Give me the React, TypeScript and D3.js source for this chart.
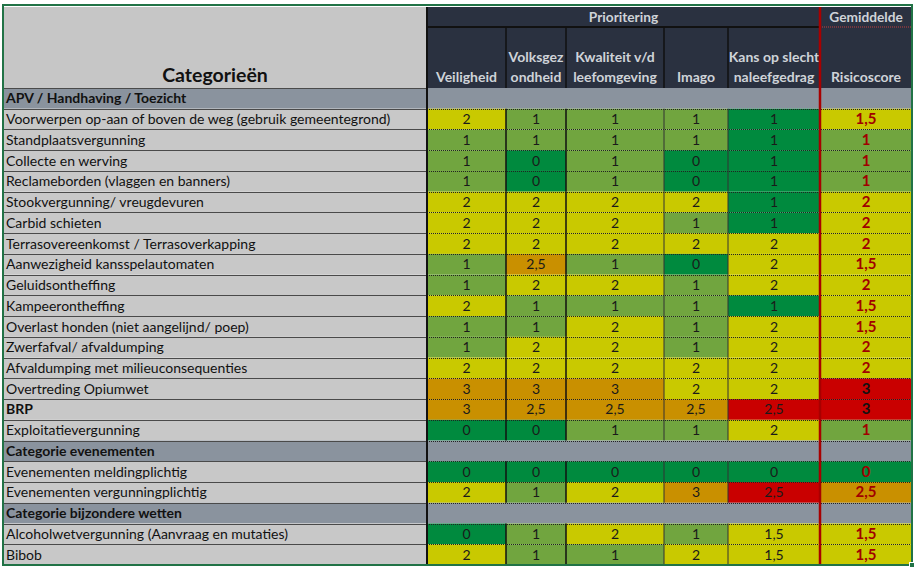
import React from 'react';
import * as d3 from 'd3';

// ---------- data ----------
const groupTitles = ['APV / Handhaving / Toezicht', 'Categorie evenementen', 'Categorie bijzondere wetten'];
const apvLabels = [
  'Voorwerpen op-aan of boven de weg (gebruik gemeentegrond)',
  'Standplaatsvergunning',
  'Collecte en werving',
  'Reclameborden (vlaggen en banners)',
  'Stookvergunning/ vreugdevuren',
  'Carbid schieten',
  'Terrasovereenkomst / Terrasoverkapping',
  'Aanwezigheid kansspelautomaten',
  'Geluidsontheffing',
  'Kampeerontheffing',
  'Overlast honden (niet aangelijnd/ poep)',
  'Zwerfafval/ afvaldumping',
  'Afvaldumping met milieuconsequenties',
  'Overtreding Opiumwet',
  'BRP',
  'Exploitatievergunning',
];
const evenementenLabels = ['Evenementen meldingplichtig', 'Evenementen vergunningplichtig'];
const bijzondereLabels = ['Alcoholwetvergunning (Aanvraag en mutaties)', 'Bibob'];
const boldLabels = ['BRP'];

const columnKeys = ['veiligheid', 'volksgezondheid', 'kwaliteit', 'imago', 'kans', 'risico'];
const columnHeaders = [
  ['Veiligheid'],
  ['Volksgez', 'ondheid'],
  ['Kwaliteit v/d', 'leefomgeving'],
  ['Imago'],
  ['Kans op slecht', 'naleefgedrag'],
  ['Risicoscore'],
];
const groupHeader1 = 'Prioritering';
const groupHeader2 = 'Gemiddelde';
const titleLabel = 'Categorieën';

const veiligheid = [2, 1, 1, 1, 2, 2, 2, 1, 1, 2, 1, 1, 2, 3, 3, 0, 0, 2, 0, 2];
const volksgezondheid = [1, 1, 0, 0, 2, 2, 2, 2.5, 2, 1, 1, 2, 2, 3, 2.5, 0, 0, 1, 1, 1];
const kwaliteit = [1, 1, 1, 1, 2, 2, 2, 1, 2, 1, 2, 2, 2, 3, 2.5, 1, 0, 2, 2, 1];
const imago = [1, 1, 0, 0, 2, 1, 2, 0, 1, 1, 1, 1, 2, 2, 2.5, 1, 0, 3, 1, 2];
const kans = [1, 1, 1, 1, 1, 1, 2, 2, 2, 1, 2, 2, 2, 2, 2.5, 2, 0, 2.5, 1.5, 1.5];
const risico = [1.5, 1, 1, 1, 2, 2, 2, 1.5, 2, 1.5, 1.5, 2, 2, 3, 3, 1, 0, 2.5, 1.5, 1.5];
const columnValues = [veiligheid, volksgezondheid, kwaliteit, imago, kans, risico];

// ---------- styles ----------
const C_DKGREEN = '#008a3e';
const C_LTGREEN = '#71a53f';
const C_YELLOW = '#c9c900';
const C_ORANGE = '#c99000';
const C_RED = '#c90000';
const C_HEAD = '#2a3140';
const C_BAND = '#8a939e';
const C_LABEL = '#c8c8c8';
const C_FRAME = '#217346';
const FONT = 'Lato, "Open Sans", sans-serif';

const stdScale = d3.scaleThreshold<number, string>().domain([0.5, 1.5, 2.25]).range([C_DKGREEN, C_LTGREEN, C_YELLOW, C_ORANGE]);
const kansScale = d3.scaleThreshold<number, string>().domain([1.25, 2.25]).range([C_DKGREEN, C_YELLOW, C_RED]);
const risicoScale = d3.scaleThreshold<number, string>().domain([0.5, 1.25, 2.25, 2.75]).range([C_DKGREEN, C_LTGREEN, C_YELLOW, C_ORANGE, C_RED]);
const colorScales = [stdScale, stdScale, stdScale, stdScale, kansScale, risicoScale];

const nl = d3.formatLocale({ decimal: ',', thousands: '.', grouping: [3], currency: ['€', ''] });
const fmt = (v: number) => (Number.isInteger(v) ? String(v) : nl.format('.1f')(v));

type Row = { kind: 'group' | 'data'; label: string; dataIndex: number };

function buildRows(): Row[] {
  const rows: Row[] = [];
  let di = 0;
  const lists = [apvLabels, evenementenLabels, bijzondereLabels];
  groupTitles.forEach((g, gi) => {
    rows.push({ kind: 'group', label: g, dataIndex: -1 });
    lists[gi].forEach((l) => {
      rows.push({ kind: 'data', label: l, dataIndex: di });
      di += 1;
    });
  });
  return rows;
}

export default function App() {
  const W = 917;
  const H = 572;
  const left = 3;
  const right = 912;
  const top = 7;
  const prioBottom = 27;
  const headBottom = 88;
  const bottom = 565;
  const colEdges = [427, 506, 566, 664, 728, 820, 912];

  const rows = buildRows();
  const y = d3.scaleBand<number>().domain(d3.range(rows.length)).range([headBottom, bottom]).padding(0);
  const rh = y.bandwidth();

  return (
    <svg width={W} height={H} style={{ position: 'absolute', left: 0, top: 0, background: '#fff' }} fontFamily={FONT}>
      {/* header: title cell */}
      <rect x={left} y={top} width={colEdges[0] - left} height={headBottom - top} fill="#c6c6c6" />
      <text x={(left + colEdges[0]) / 2} y={82} textAnchor="middle" fontSize={19.5} fontWeight="bold" fill="#111">{titleLabel}</text>
      {/* dark header */}
      <rect x={colEdges[0]} y={top} width={right - colEdges[0]} height={headBottom - top} fill={C_HEAD} />
      <text x={(colEdges[0] + colEdges[5]) / 2} y={22} textAnchor="middle" fontSize={13.7} fontWeight="bold" fill="#cfd3d8">{groupHeader1}</text>
      <text x={(colEdges[5] + right) / 2} y={22} textAnchor="middle" fontSize={13.7} fontWeight="bold" fill="#cfd3d8">{groupHeader2}</text>
      <line x1={colEdges[0]} x2={colEdges[5]} y1={prioBottom} y2={prioBottom} stroke="#111" strokeWidth={2} />
      <line x1={colEdges[5]} x2={right} y1={prioBottom} y2={prioBottom} stroke="#c04040" strokeWidth={1} strokeDasharray="1,1" />
      {columnHeaders.map((lines, i) => {
        const cx = (colEdges[i] + colEdges[i + 1]) / 2;
        return lines.map((t, li) => (
          <text key={`h${i}-${li}`} x={cx} y={82 - (lines.length - 1 - li) * 20} textAnchor="middle" fontSize={14} fontWeight="bold" fill="#cfd3d8">{t}</text>
        ));
      })}
      {colEdges.slice(1, 5).map((x, i) => (
        <line key={`hv${i}`} x1={x} x2={x} y1={prioBottom} y2={headBottom} stroke="#111" strokeWidth={1.5} />
      ))}

      {/* body rows */}
      {rows.map((r, i) => {
        const y0 = y(i) as number;
        if (r.kind === 'group') {
          return (
            <g key={`r${i}`}>
              <rect x={left} y={y0} width={right - left} height={rh} fill={C_BAND} />
              <text x={6} y={y0 + rh / 2 + 5} fontSize={14} fontWeight="bold" fill="#111">{r.label}</text>
            </g>
          );
        }
        return (
          <g key={`r${i}`}>
            <rect x={left} y={y0} width={colEdges[0] - left} height={rh} fill={C_LABEL} />
            <text x={6} y={y0 + rh / 2 + 5} fontSize={14} fontWeight={boldLabels.includes(r.label) ? 'bold' : 'normal'} fill="#111">{r.label}</text>
            {columnValues.map((vals, ci) => {
              const v = vals[r.dataIndex];
              const fill = colorScales[ci](v);
              const isRisk = columnKeys[ci] === 'risico';
              const textFill = isRisk ? (fill === C_RED ? '#111' : '#a00000') : '#1a1a1a';
              return (
                <g key={`c${ci}`}>
                  <rect x={colEdges[ci]} y={y0} width={colEdges[ci + 1] - colEdges[ci]} height={rh} fill={fill} />
                  <text x={(colEdges[ci] + colEdges[ci + 1]) / 2} y={y0 + rh / 2 + 5} textAnchor="middle" fontSize={isRisk ? 15 : 14} fontWeight={isRisk ? 'bold' : 'normal'} fill={textFill}>{fmt(v)}</text>
                </g>
              );
            })}
          </g>
        );
      })}

      {/* horizontal separators */}
      {rows.map((r, i) => {
        if (i === 0) return null;
        const yy = Math.round(y(i) as number) + 0.5;
        return (
          <g key={`s${i}`}>
            <line x1={left} x2={colEdges[0]} y1={yy} y2={yy} stroke="#4a4a4a" strokeWidth={1.2} />
            <line x1={colEdges[0]} x2={right} y1={yy} y2={yy} stroke="#222" strokeWidth={1} strokeDasharray="1,1" />
          </g>
        );
      })}
      <line x1={left} x2={colEdges[0]} y1={headBottom + 0.5} y2={headBottom + 0.5} stroke="#4a4a4a" strokeWidth={1.2} />

      {/* vertical lines in body */}
      {rows.map((r, i) => {
        if (r.kind === 'group') return null;
        const y0 = y(i) as number;
        return (
          <g key={`v${i}`}>
            {[1, 2].map((k) => (
              <line key={k} x1={colEdges[k]} x2={colEdges[k]} y1={y0} y2={y0 + rh} stroke="#111" strokeWidth={1.5} />
            ))}
            {[3, 4].map((k) => (
              <line key={k} x1={colEdges[k]} x2={colEdges[k]} y1={y0} y2={y0 + rh} stroke="#333" strokeWidth={1} />
            ))}
          </g>
        );
      })}
      <line x1={colEdges[0]} x2={colEdges[0]} y1={top} y2={bottom} stroke="#111" strokeWidth={2} />
      <line x1={colEdges[5]} x2={colEdges[5]} y1={top} y2={bottom} stroke="#a80000" strokeWidth={2.5} />

      {/* excel selection frame */}
      <rect x={left} y={5} width={right - left} height={bottom - 5} fill="none" stroke={C_FRAME} strokeWidth={2} />
      <rect x={right - 2.5} y={bottom - 2.5} width={5} height={5} fill={C_FRAME} stroke="#fff" strokeWidth={1} />
    </svg>
  );
}
